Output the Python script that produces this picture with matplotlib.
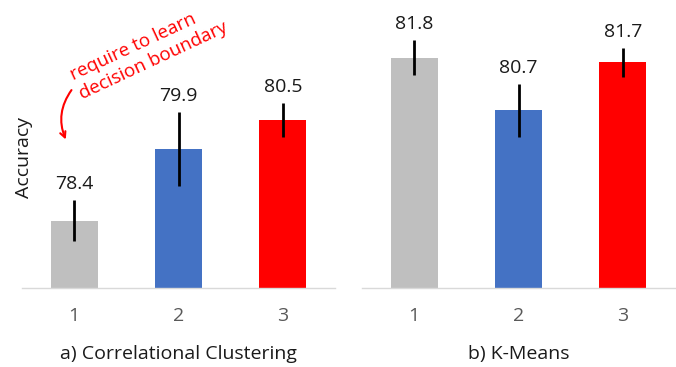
import numpy as np
import matplotlib
matplotlib.use("Agg")
import matplotlib.pyplot as plt

plt.rcParams['font.family'] = ['Open Sans', 'DejaVu Sans']

# data
categories = ["1", "2", "3"]
cc_acc = [78.4, 79.9, 80.5]
cc_err = [0.43, 0.77, 0.35]
km_acc = [81.8, 80.7, 81.7]
km_err = [0.37, 0.55, 0.30]
panel_titles = ["a) Correlational Clustering", "b) K-Means"]
bar_colors = ["#bfbfbf", "#4472c4", "#ff0000"]
note_text = "require to learn\ndecision boundary"

W, H = 676, 367
FS = 14
fig = plt.figure(figsize=(W / 100, H / 100), dpi=100)

ax_bottom = (H - 288) / H
ax_h = 288 / H
ax_l = fig.add_axes([22 / W, ax_bottom, 313 / W, ax_h])
ax_r = fig.add_axes([362 / W, ax_bottom, 313 / W, ax_h])

x = np.arange(1, len(categories) + 1)

for ax, vals, errs, title in [(ax_l, cc_acc, cc_err, panel_titles[0]),
                              (ax_r, km_acc, km_err, panel_titles[1])]:
    ax.bar(x, np.array(vals) - 77, bottom=77, width=0.45, color=bar_colors)
    ax.errorbar(x, vals, yerr=errs, fmt='none', ecolor='black', elinewidth=2, capsize=0)
    for xi, v, e in zip(x, vals, errs):
        ax.annotate(f"{v:.1f}", xy=(xi, v + e), xytext=(0, 11), textcoords='offset pixels',
                    ha='center', va='baseline', fontsize=FS, color='#1a1a1a')
    ax.set_xlim(0.5, 3.5)
    ax.set_ylim(77, 83)
    ax.set_xticks(x)
    ax.set_xticklabels(categories, fontsize=FS, color='#595959')
    ax.tick_params(axis='x', length=0, pad=14)
    ax.set_yticks([])
    for s in ['top', 'left', 'right']:
        ax.spines[s].set_visible(False)
    ax.spines['bottom'].set_color('#d9d9d9')
    ax.spines['bottom'].set_linewidth(1)
    ax.set_xlabel(title, fontsize=FS, color='#1a1a1a', labelpad=14)

fig.text(24 / W, 1 - 158 / H, "Accuracy", rotation=90, ha='center', va='center',
         fontsize=FS, color='#1a1a1a')

# red note with curved arrow
ax_l.text(1.72, 81.93, note_text, rotation=25, ha='center', va='center',
          multialignment='left', fontsize=13.5, color='red', linespacing=1.25,
          rotation_mode='anchor')
ax_l.annotate("", xy=(0.93, 80.04), xytext=(0.99, 81.17),
              arrowprops=dict(arrowstyle='->', color='red', lw=1.5,
                              connectionstyle='arc3,rad=0.3', mutation_scale=10))

fig.savefig("out.png", dpi=100)
